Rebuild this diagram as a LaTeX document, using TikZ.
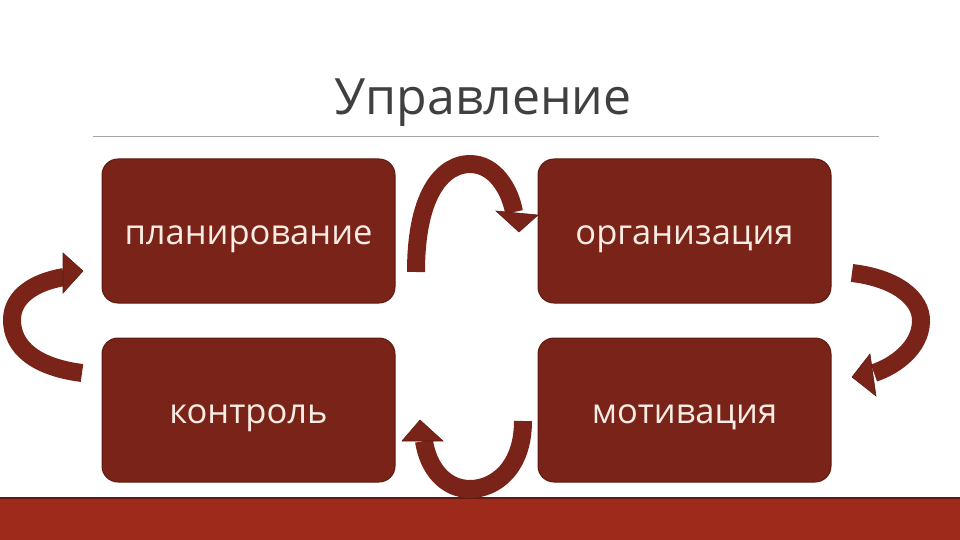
\documentclass[tikz,border=0pt]{standalone}
\usepackage{fontspec}
\setmainfont{Open Sans}
\definecolor{boxred}{HTML}{7A2318}
\definecolor{boxedge}{HTML}{5E1A10}
\definecolor{barred}{HTML}{9E2A1B}
\definecolor{titlegray}{HTML}{404040}
\definecolor{textcream}{HTML}{F8ECE4}
\newcommand{\boxtxt}[1]{\raisebox{-13pt}[0pt][0pt]{#1}}
\begin{document}
\begin{tikzpicture}[x=1pt,y=-1pt,
  stagebox/.style={draw=boxedge,line width=1pt,fill=boxred,rounded corners=16pt,
    minimum width=293pt,minimum height=144pt,inner sep=0pt,
    text=textcream,font=\fontsize{34.5}{34.5}\selectfont},
  band/.style={draw=boxred,line width=18pt},
  head/.style={fill=boxred,draw=boxedge,line width=0.6pt,line join=miter}]
\useasboundingbox (0,0) rectangle (960,540);
\fill[white] (0,0) rectangle (960,540);
% title
\node[text=titlegray,font=\fontsize{50}{50}\selectfont] (title) at (483,103) {Управление};
\coordinate (ruleL) at (93,136);
\coordinate (ruleR) at (879,136);
\draw[gray!70,line width=0.8pt] (ruleL) -- (ruleR);
% boxes
\node[stagebox] (plan) at (248.5,231) {\boxtxt{планирование}};
\node[stagebox] (org) at (684.5,231) {\boxtxt{организация}};
\node[stagebox] (ctrl) at (248.5,410) {\boxtxt{контроль}};
\node[stagebox] (motiv) at (684.5,410) {\boxtxt{мотивация}};
% bottom bar
\fill[barred] (0,498) rectangle (960,540);
\draw[boxedge,line width=2pt] (0,498) -- (960,498);
% top arrow plan -> org
\coordinate (t0) at (416,272);
\coordinate (t1) at (470,164);
\coordinate (t2) at (514,212);
\draw[band] (t0) .. controls (416,190) and (445,164) .. (t1) .. controls (495,164) and (510,190) .. (t2);
\draw[head] (496,211) -- (538,215) -- (519,232) -- cycle;
% right arrow org -> motiv
\coordinate (r0) at (852,273);
\coordinate (r1) at (921,322);
\coordinate (r2) at (874,373);
\draw[band] (r0) .. controls (895,278) and (922,298) .. (r1) .. controls (920,348) and (895,366) .. (r2);
\draw[head] (870,354) -- (876,396) -- (852,377) -- cycle;
% bottom arrow motiv -> ctrl
\coordinate (b0) at (523,421);
\coordinate (b1) at (470,489);
\coordinate (b2) at (424,441);
\draw[band] (b0) .. controls (523,468) and (495,489) .. (b1) .. controls (445,489) and (428,468) .. (b2);
\draw[head] (402,441) -- (443,441) -- (420,420) -- cycle;
% left arrow ctrl -> plan
\coordinate (l0) at (82,373);
\coordinate (l1) at (12,320);
\coordinate (l2) at (64,277);
\draw[band] (l0) .. controls (35,367) and (12,347) .. (l1) .. controls (12,296) and (35,282) .. (l2);
\draw[head] (63,253) -- (83,271) -- (63,293) -- cycle;
\end{tikzpicture}
\end{document}
